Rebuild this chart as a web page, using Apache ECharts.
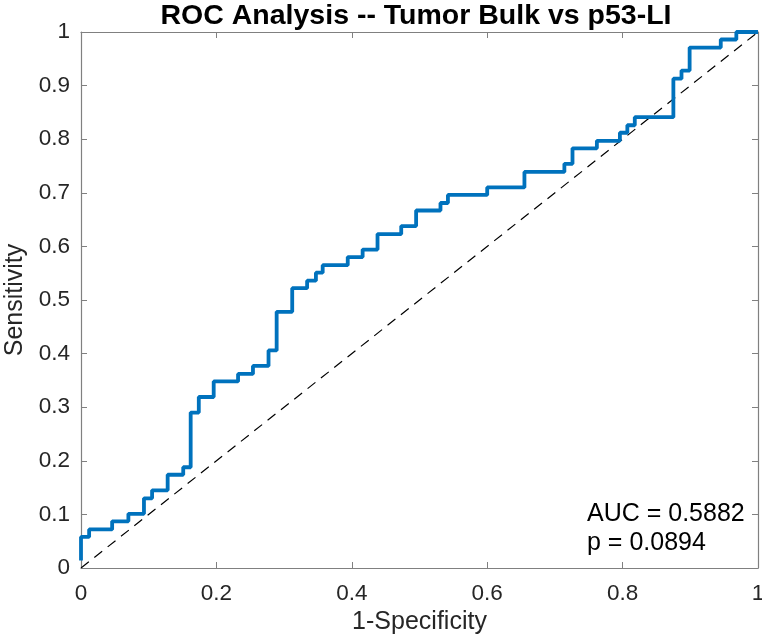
<!DOCTYPE html>
<html>
<head>
<meta charset="utf-8">
<script src="https://cdn.jsdelivr.net/npm/echarts@6/dist/echarts.min.js"></script>
<style>
  html, body { margin: 0; padding: 0; background: #fff; }
  #rocChart { width: 762px; height: 637px; }
</style>
</head>
<body>
<div id="rocChart"></div>
<script>
// ROC curve points (step happens at each fpr)
const fpr = [0, 0, 0.012, 0.046, 0.070, 0.093, 0.105, 0.128, 0.151, 0.162, 0.174,
  0.196, 0.232, 0.254, 0.277, 0.289, 0.312, 0.334, 0.347, 0.357, 0.394, 0.416,
  0.438, 0.473, 0.495, 0.531, 0.542, 0.600, 0.655, 0.714, 0.726, 0.762, 0.796,
  0.807, 0.818, 0.875, 0.887, 0.899, 0.945, 0.968, 1];
const tpr = [0.014, 0.058, 0.072, 0.087, 0.101, 0.130, 0.145, 0.174, 0.188, 0.290, 0.319,
  0.348, 0.362, 0.377, 0.406, 0.478, 0.522, 0.536, 0.551, 0.565, 0.580, 0.594,
  0.623, 0.638, 0.667, 0.681, 0.696, 0.710, 0.739, 0.754, 0.783, 0.797, 0.812,
  0.826, 0.841, 0.913, 0.928, 0.971, 0.986, 1, 1];
const chanceX = [0, 1];
const chanceY = [0, 1];
const aucText = 'AUC = 0.5882';
const pText = 'p = 0.0894';

const FONT = 'Liberation Sans, Arial, Helvetica, sans-serif';
const AXIS_GRAY = '#808080';
const LABEL_COLOR = '#262626';

const rocData = fpr.map((x, i) => [x, tpr[i]]);
const chanceData = chanceX.map((x, i) => [x, chanceY[i]]);

const chart = echarts.init(document.getElementById('rocChart'), null, { renderer: 'canvas' });

const baseAxis = {
  type: 'value',
  min: 0,
  max: 1,
  axisLine: { show: true, onZero: false, lineStyle: { color: AXIS_GRAY, width: 1.2 } },
  axisTick: { show: true, inside: true, length: 6, lineStyle: { color: AXIS_GRAY, width: 1 } },
  splitLine: { show: false },
};

chart.setOption({
  animation: false,
  backgroundColor: '#fff',
  title: {
    text: 'ROC Analysis -- Tumor Bulk vs p53-LI',
    left: 411,
    textAlign: 'center',
    top: -3,
    textStyle: { fontFamily: FONT, fontSize: 28.5, fontWeight: 'bold', color: '#000' },
  },
  grid: {
    left: 81, right: 4, top: 32, bottom: 69,
    containLabel: false,
    outerBoundsMode: 'none',
  },
  xAxis: [
    Object.assign({}, baseAxis, {
      position: 'bottom',
      interval: 0.2,
      name: '1-Specificity',
      nameLocation: 'middle',
      nameGap: 42,
      nameTextStyle: { fontFamily: FONT, fontSize: 25, color: LABEL_COLOR },
      axisLabel: { fontFamily: FONT, fontSize: 22.5, color: LABEL_COLOR, margin: 14 },
    }),
    Object.assign({}, baseAxis, {
      position: 'top',
      interval: 0.2,
      axisLabel: { show: false },
    }),
  ],
  yAxis: [
    Object.assign({}, baseAxis, {
      position: 'left',
      interval: 0.1,
      name: 'Sensitivity',
      nameLocation: 'middle',
      nameGap: 52,
      nameTextStyle: { fontFamily: FONT, fontSize: 25, color: LABEL_COLOR },
      axisLabel: { fontFamily: FONT, fontSize: 22.5, color: LABEL_COLOR, margin: 11 },
    }),
    Object.assign({}, baseAxis, {
      position: 'right',
      interval: 0.1,
      axisLabel: { show: false },
    }),
  ],
  series: [
    {
      name: 'chance',
      type: 'line',
      data: chanceData,
      symbol: 'none',
      silent: true,
      lineStyle: { color: '#000', width: 1.2, type: [10, 7] },
    },
    {
      name: 'ROC',
      type: 'line',
      data: rocData,
      step: 'end',
      symbol: 'none',
      clip: false,
      lineStyle: { color: '#0072BD', width: 3.8 },
    },
  ],
  graphic: [
    {
      type: 'text',
      left: 587,
      top: 502,
      style: { text: aucText, font: '25px ' + FONT, fill: '#000' },
    },
    {
      type: 'text',
      left: 587,
      top: 531,
      style: { text: pText, font: '25px ' + FONT, fill: '#000' },
    },
  ],
});
</script>
</body>
</html>
